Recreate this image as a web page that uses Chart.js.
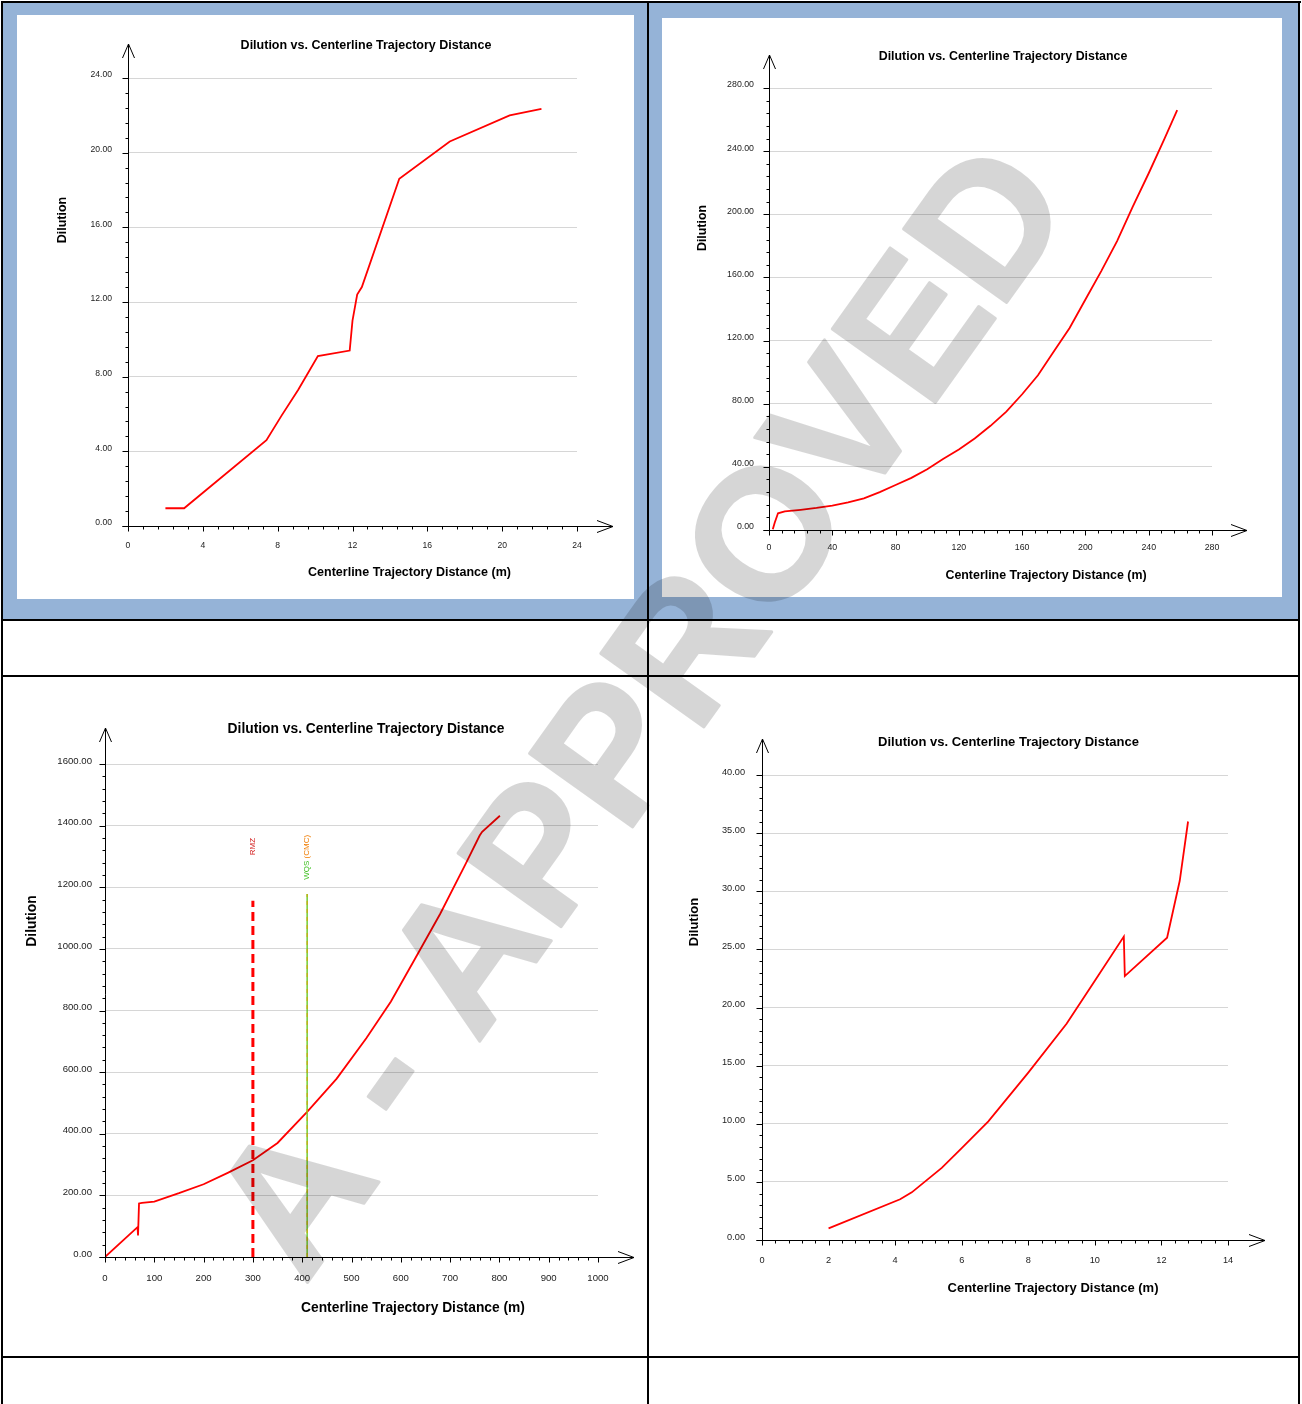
<!DOCTYPE html>
<html>
<head>
<meta charset="utf-8">
<title>Dilution vs. Centerline Trajectory Distance</title>
<script src="https://cdn.jsdelivr.net/npm/chart.js@4.4.1/dist/chart.umd.min.js"></script>
<style>
  html, body { margin: 0; padding: 0; background: #fff; }
  #page { position: relative; width: 1302px; height: 1404px; overflow: hidden; }
  .ln { position: absolute; background: #000; }
  .blue { position: absolute; background: #95b3d7; }
  canvas.ch { position: absolute; background: #fff; }
  #wm { position: absolute; left: 0; top: 0; pointer-events: none; opacity: 0.16; }
</style>
</head>
<body>
<div id="page">
  <div class="blue" style="left:3px;top:3px;width:644px;height:616px"></div>
  <div class="blue" style="left:649px;top:3px;width:649px;height:616px"></div>

  <canvas class="ch" id="c1" width="617" height="584" style="left:17px;top:15px"></canvas>
  <canvas class="ch" id="c2" width="620" height="579" style="left:662px;top:18px"></canvas>
  <canvas class="ch" id="c3" width="644" height="679" style="left:3px;top:677px"></canvas>
  <canvas class="ch" id="c4" width="649" height="679" style="left:649px;top:677px"></canvas>

  <!-- table rules -->
  <div class="ln" style="left:1px;top:1px;width:1300px;height:2px"></div>
  <div class="ln" style="left:1px;top:1px;width:2px;height:1403px"></div>
  <div class="ln" style="left:647px;top:1px;width:2px;height:1403px"></div>
  <div class="ln" style="left:1298px;top:1px;width:2px;height:1403px"></div>
  <div class="ln" style="left:1px;top:619px;width:1299px;height:2px"></div>
  <div class="ln" style="left:1px;top:675px;width:1299px;height:2px"></div>
  <div class="ln" style="left:1px;top:1356px;width:1299px;height:2px"></div>

  <canvas id="wm" width="1302" height="1404"></canvas>
</div>

<script>
const FONT = '"Liberation Sans", Arial, sans-serif';
Chart.defaults.font.family = FONT;

const chartTitle = 'Dilution vs. Centerline Trajectory Distance';
const xTitle = 'Centerline Trajectory Distance (m)';
const yTitle = 'Dilution';

// top left
const dist1 = [2.0, 3.0, 7.4, 8.2, 9.1, 10.15, 11.85, 12.0, 12.25, 12.5, 14.5, 17.2, 20.4, 22.1];
const dil1 = [0.95, 0.95, 4.6, 5.9, 7.3, 9.1, 9.4, 11.0, 12.4, 12.8, 18.6, 20.6, 22.0, 22.35];
const xTicks1 = [0, 4, 8, 12, 16, 20, 24];
const yTicks1 = [0, 4, 8, 12, 16, 20, 24];

// top right
const dist2 = [2.4, 3.6, 5.7, 10, 20, 30, 40, 50, 60, 70, 80, 90, 100, 110, 120, 130, 140, 150, 160, 170, 180, 190, 200, 210, 220, 230, 240, 250, 258];
const dil2 = [0.5, 4.6, 10.6, 11.8, 12.8, 14, 15.5, 17.5, 20, 24, 28.5, 33, 38.5, 45, 51, 58, 66, 75, 86, 98, 113, 128, 146, 164, 183, 205, 226, 248, 266];
const xTicks2 = [0, 40, 80, 120, 160, 200, 240, 280];
const yTicks2 = [0, 40, 80, 120, 160, 200, 240, 280];

// bottom left
const dist3 = [0, 66, 67, 69, 75, 100, 150, 200, 250, 300, 350, 410, 470, 530, 580, 630, 680, 730, 760, 765, 801];
const dil3 = [0, 97, 70, 174, 176, 180, 207, 236, 274, 314, 370, 471, 579, 710, 829, 971, 1114, 1271, 1368, 1380, 1432];
const xTicks3 = [0, 100, 200, 300, 400, 500, 600, 700, 800, 900, 1000];
const yTicks3 = [0, 200, 400, 600, 800, 1000, 1200, 1400, 1600];
const rmzDist = [300, 300];
const rmzDil = [0, 1156];
const wqsDist = [410, 410];
const wqsDil = [0, 1178];

// bottom right
const dist4 = [2.0, 4.15, 4.5, 5.4, 6.0, 6.8, 8.0, 9.15, 10.0, 10.87, 10.9, 12.17, 12.55, 12.8];
const dil4 = [1.0, 3.5, 4.1, 6.2, 7.9, 10.2, 14.4, 18.6, 22.3, 26.1, 22.7, 26.0, 30.9, 36.0];
const xTicks4 = [0, 2, 4, 6, 8, 10, 12, 14];
const yTicks4 = [0, 5, 10, 15, 20, 25, 30, 35, 40];

function pts(xs, ys) {
  return xs.map((v, i) => ({ x: v, y: ys[i] }));
}

// draws the title, axis titles, arrow axes and the small tick marks
function decorFor(cfg) {
  return {
    id: 'decor',
    afterDraw(chart) {
      const { ctx, chartArea: a } = chart;
      const xs = chart.scales.x, ys = chart.scales.y;
      const L = Math.round(a.left) + 0.5, B = Math.round(a.bottom) + 0.5;
      ctx.save();
      ctx.strokeStyle = '#000';
      ctx.lineWidth = 1;
      ctx.beginPath();
      const ty = Math.round(a.top) - cfg.arrowY;
      const tx = Math.round(a.right) + cfg.arrowX;
      ctx.moveTo(L, B + 3); ctx.lineTo(L, ty);
      ctx.moveTo(L - 6, B); ctx.lineTo(tx, B);
      ctx.moveTo(L - 6, ty + 14); ctx.lineTo(L, ty); ctx.lineTo(L + 6, ty + 14);
      ctx.moveTo(tx - 16, B - 6); ctx.lineTo(tx, B); ctx.lineTo(tx - 16, B + 6);

      const xt = cfg.xTicks, yt = cfg.yTicks;
      const xStep = (xt[1] - xt[0]) / 5, yStep = (yt[1] - yt[0]) / 5;
      const nx = Math.round((xt[xt.length - 1] - xt[0]) / xStep);
      const ny = Math.round((yt[yt.length - 1] - yt[0]) / yStep);
      for (let i = 0; i <= nx; i++) {
        const px = Math.round(xs.getPixelForValue(xt[0] + i * xStep)) + 0.5;
        ctx.moveTo(px, B); ctx.lineTo(px, B + (i % 5 === 0 ? 5 : 3));
      }
      for (let i = 0; i <= ny; i++) {
        const py = Math.round(ys.getPixelForValue(yt[0] + i * yStep)) + 0.5;
        ctx.moveTo(L - (i % 5 === 0 ? 6 : 3), py); ctx.lineTo(L, py);
      }
      ctx.stroke();

      ctx.fillStyle = '#000';
      ctx.textAlign = 'center';
      ctx.textBaseline = 'middle';
      ctx.font = 'bold ' + cfg.font + 'px ' + FONT;
      ctx.fillText(chartTitle, cfg.title[0] - cfg.ox, cfg.title[1] - cfg.oy);
      ctx.fillText(xTitle, cfg.xLab[0] - cfg.ox, cfg.xLab[1] - cfg.oy);
      ctx.save();
      ctx.translate(cfg.yLab[0] - cfg.ox, cfg.yLab[1] - cfg.oy);
      ctx.rotate(-Math.PI / 2);
      ctx.fillText(yTitle, 0, 0);
      ctx.restore();

      (cfg.markers || []).forEach(m => {
        ctx.save();
        ctx.translate(xs.getPixelForValue(m.at), ys.getPixelForValue(m.top));
        ctx.rotate(-Math.PI / 2);
        ctx.font = '8px ' + FONT;
        ctx.textAlign = 'right';
        let off = 0;
        for (let k = m.parts.length - 1; k >= 0; k--) {
          ctx.fillStyle = m.colors[k];
          ctx.fillText(m.parts[k], -off, 0);
          off += ctx.measureText(m.parts[k]).width;
        }
        ctx.restore();
      });
      ctx.restore();
    }
  };
}

function makeChart(id, cfg) {
  const datasets = (cfg.extra || []).concat([{
    data: pts(cfg.dist, cfg.dil),
    borderColor: '#f00',
    borderWidth: 1.8,
    pointRadius: 0,
    tension: 0
  }]);
  const xt = cfg.xTicks, yt = cfg.yTicks;
  const tickFont = { size: cfg.tick, family: FONT };
  new Chart(document.getElementById(id), {
    type: 'line',
    data: { datasets },
    options: {
      responsive: false,
      animation: false,
      devicePixelRatio: 1,
      layout: { padding: { left: 0, top: cfg.area.top, right: cfg.area.right, bottom: 0 } },
      plugins: { legend: { display: false }, tooltip: { enabled: false } },
      scales: {
        x: {
          type: 'linear',
          min: xt[0], max: xt[xt.length - 1],
          afterBuildTicks: s => { s.ticks = xt.map(v => ({ value: v })); },
          afterFit: s => { s.height = cfg.area.bottom; },
          grid: { display: false, drawTicks: false },
          border: { display: false },
          ticks: { font: tickFont, color: '#222', padding: cfg.xPad, maxRotation: 0, autoSkip: false,
                   callback: v => String(v) }
        },
        y: {
          min: yt[0], max: yt[yt.length - 1],
          afterBuildTicks: s => { s.ticks = yt.map(v => ({ value: v })); },
          afterFit: s => { s.width = cfg.area.left; },
          grid: { color: '#d6d6d6', lineWidth: 1, drawTicks: false },
          border: { display: false },
          ticks: { font: tickFont, color: '#222', padding: cfg.yPad, labelOffset: -3, autoSkip: false,
                   callback: v => Number(v).toFixed(2) }
        }
      }
    },
    plugins: [decorFor(cfg)]
  });
}

makeChart('c1', {
  dist: dist1, dil: dil1, xTicks: xTicks1, yTicks: yTicks1,
  ox: 17, oy: 15, area: { left: 111, top: 63, right: 57, bottom: 73 },
  font: 12.5, tick: 8.6, yPad: 16, xPad: 14.3,
  title: [366, 46], xLab: [409.5, 573], yLab: [63, 220], arrowX: 36, arrowY: 34
});

makeChart('c2', {
  dist: dist2, dil: dil2, xTicks: xTicks2, yTicks: yTicks2,
  ox: 662, oy: 18, area: { left: 107, top: 70, right: 70, bottom: 67 },
  font: 12.4, tick: 8.8, yPad: 15, xPad: 12.7,
  title: [1003, 57], xLab: [1046, 576], yLab: [703, 228], arrowX: 35, arrowY: 33
});

makeChart('c3', {
  dist: dist3, dil: dil3, xTicks: xTicks3, yTicks: yTicks3,
  ox: 3, oy: 677, area: { left: 102, top: 87, right: 49, bottom: 99 },
  font: 13.8, tick: 9.6, yPad: 13, xPad: 15.2,
  title: [366, 729], xLab: [413, 1308], yLab: [32, 921], arrowX: 36, arrowY: 36,
  extra: [
    { data: pts(wqsDist, wqsDil), borderColor: '#d9a400', borderWidth: 1, borderDash: [4, 4], pointRadius: 0 },
    { data: pts(wqsDist, wqsDil), borderColor: '#5cc414', borderWidth: 1.3, pointRadius: 0 },
    { data: pts(rmzDist, rmzDil), borderColor: '#f00', borderWidth: 3, borderDash: [9, 5], pointRadius: 0 }
  ],
  markers: [
    { at: 300, top: 1360, parts: ['RMZ'], colors: ['#d42020'] },
    { at: 410, top: 1370, parts: ['WQS', ' (CMC)'], colors: ['#3cbf1e', '#f07c00'] }
  ]
});

makeChart('c4', {
  dist: dist4, dil: dil4, xTicks: xTicks4, yTicks: yTicks4,
  ox: 649, oy: 677, area: { left: 113, top: 98, right: 70, bottom: 116 },
  font: 13.0, tick: 9.2, yPad: 17, xPad: 14.5,
  title: [1008.5, 742], xLab: [1053, 1288], yLab: [694, 922], arrowX: 37, arrowY: 36
});

// watermark stamp across the whole page
const wm = document.getElementById('wm').getContext('2d');
wm.translate(637, 707);
wm.rotate(-54.5 * Math.PI / 180);
wm.font = 'bold 184px ' + FONT;
wm.textAlign = 'center';
wm.textBaseline = 'alphabetic';
wm.lineJoin = 'round';
wm.lineWidth = 3;
wm.fillStyle = '#000';
wm.strokeStyle = '#000';
wm.fillText('A - APPROVED', 0, 66);
wm.strokeText('A - APPROVED', 0, 66);
</script>
</body>
</html>
